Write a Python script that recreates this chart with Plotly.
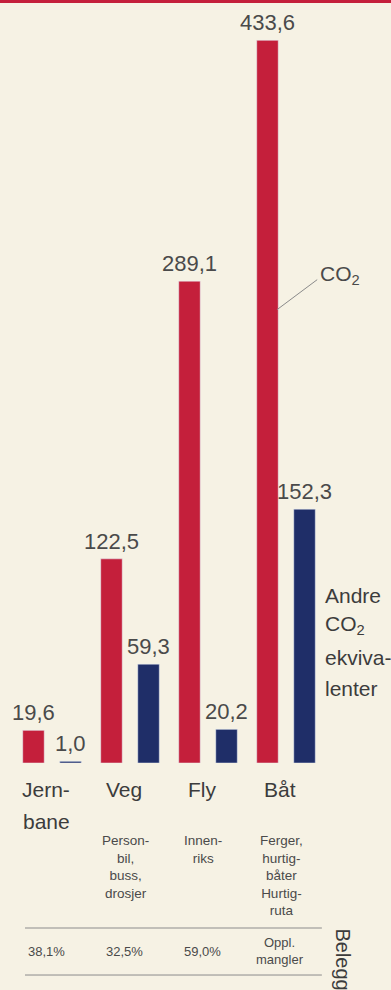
import plotly.graph_objects as go

# Transport modes and emissions (values as printed on the bars)
categories = ["Jernbane", "Veg", "Fly", "Båt"]
cat_labels = [["Jern-", "bane"], ["Veg"], ["Fly"], ["Båt"]]
co2 = [19.6, 122.5, 289.1, 433.6]
andre = [1.0, 59.3, 20.2, 152.3]
sub_labels = ["", "Person-<br>bil,<br>buss,<br>drosjer", "Innen-<br>riks",
              "Ferger,<br>hurtig-<br>båter<br>Hurtig-<br>ruta"]
belegg = ["38,1%", "32,5%", "59,0%", "Oppl.<br>mangler"]

RED = "#c41f3b"
BLUE = "#1f2e68"
BG = "#f6f2e4"
TXT = "#4a4a4a"
FONT = "Liberation Sans"


def fmt(v):
    return f"{v:.1f}".replace(".", ",")


fig = go.Figure()
fig.add_trace(go.Bar(x=categories, y=co2, marker_color=RED, name="CO2"))
fig.add_trace(go.Bar(x=categories, y=andre, marker_color=BLUE, name="Andre"))

ann = []
OFF = 0.2375
for i, (a, b) in enumerate(zip(co2, andre)):
    for xv, v in ((i - OFF, a), (i + OFF, b)):
        ann.append(dict(x=xv, y=v, xref="x", yref="y", text=fmt(v), showarrow=False,
                        yanchor="bottom", yshift=3, font=dict(size=22, color=TXT)))

# category names under the bars
for i, lines in enumerate(cat_labels):
    for k, line in enumerate(lines):
        ann.append(dict(x=i, y=0, xref="x", yref="y", text=line, showarrow=False,
                        yanchor="middle", yshift=-26 - 32 * k, xshift=-6,
                        font=dict(size=21, color="#3c3c3c")))

# descriptive sub-labels
for i, t in enumerate(sub_labels):
    if t:
        ann.append(dict(x=i, y=0, xref="x", yref="y", text=t, showarrow=False,
                        yanchor="top", yshift=-68, xshift=-5,
                        font=dict(size=13.5, color=TXT)))

# occupancy row
for i, t in enumerate(belegg):
    ann.append(dict(x=i, y=0, xref="x", yref="y", text=t, showarrow=False,
                    yanchor="middle", yshift=-188, xshift=-6,
                    font=dict(size=13, color=TXT)))

ann.append(dict(x=1.098, y=0, xref="paper", yref="y", text="Belegg", showarrow=False,
                textangle=90, yanchor="middle", yshift=-196,
                font=dict(size=20, color="#3c3c3c")))

# series captions
ann.append(dict(x=3.41, y=293, xref="x", yref="y", text="CO<sub>2</sub>", showarrow=False,
                xanchor="left", yanchor="middle", font=dict(size=21, color=TXT)))
andre_lines = ["Andre", "CO<sub>2</sub>", "ekviva-", "lenter"]
andre_shift = [168, 138, 106, 75]
for line, s in zip(andre_lines, andre_shift):
    ann.append(dict(x=0.9936, y=0, xref="paper", yref="y", text=line, showarrow=False,
                    xanchor="left", yanchor="middle", yshift=s,
                    font=dict(size=21, color="#3c3c3c")))

shapes = [
    # leader line to the CO2 bar
    dict(type="line", xref="x", yref="y", x0=2.885, y0=272, x1=3.40, y1=290,
         line=dict(color="#8a8a8a", width=1)),
    # table rules
    dict(type="line", xref="x", yref="paper", x0=-0.346, x1=3.46, y0=-0.22, y1=-0.22,
         line=dict(color="#8c8c8c", width=1)),
    dict(type="line", xref="x", yref="paper", x0=-0.346, x1=3.46, y0=-0.2827, y1=-0.2827,
         line=dict(color="#8c8c8c", width=1)),
    # red stripe along the top edge
    dict(type="rect", xref="paper", yref="paper", x0=-0.05, x1=1.22, y0=1.0133, y1=1.02,
         fillcolor=RED, line=dict(width=0)),
]

fig.update_layout(
    width=391, height=990,
    margin=dict(l=13, r=66, t=13, b=227),
    paper_bgcolor=BG, plot_bgcolor=BG,
    barmode="group", bargap=0.05, bargroupgap=0.42,
    showlegend=False,
    font=dict(family=FONT, color=TXT),
    xaxis=dict(showticklabels=False, showgrid=False, zeroline=False, showline=False,
               ticks="", range=[-0.5, 3.5]),
    yaxis=dict(range=[0, 450], showticklabels=False, showgrid=False, zeroline=False,
               showline=False, ticks=""),
    annotations=ann,
    shapes=shapes,
)

fig.write_html("out.html")
